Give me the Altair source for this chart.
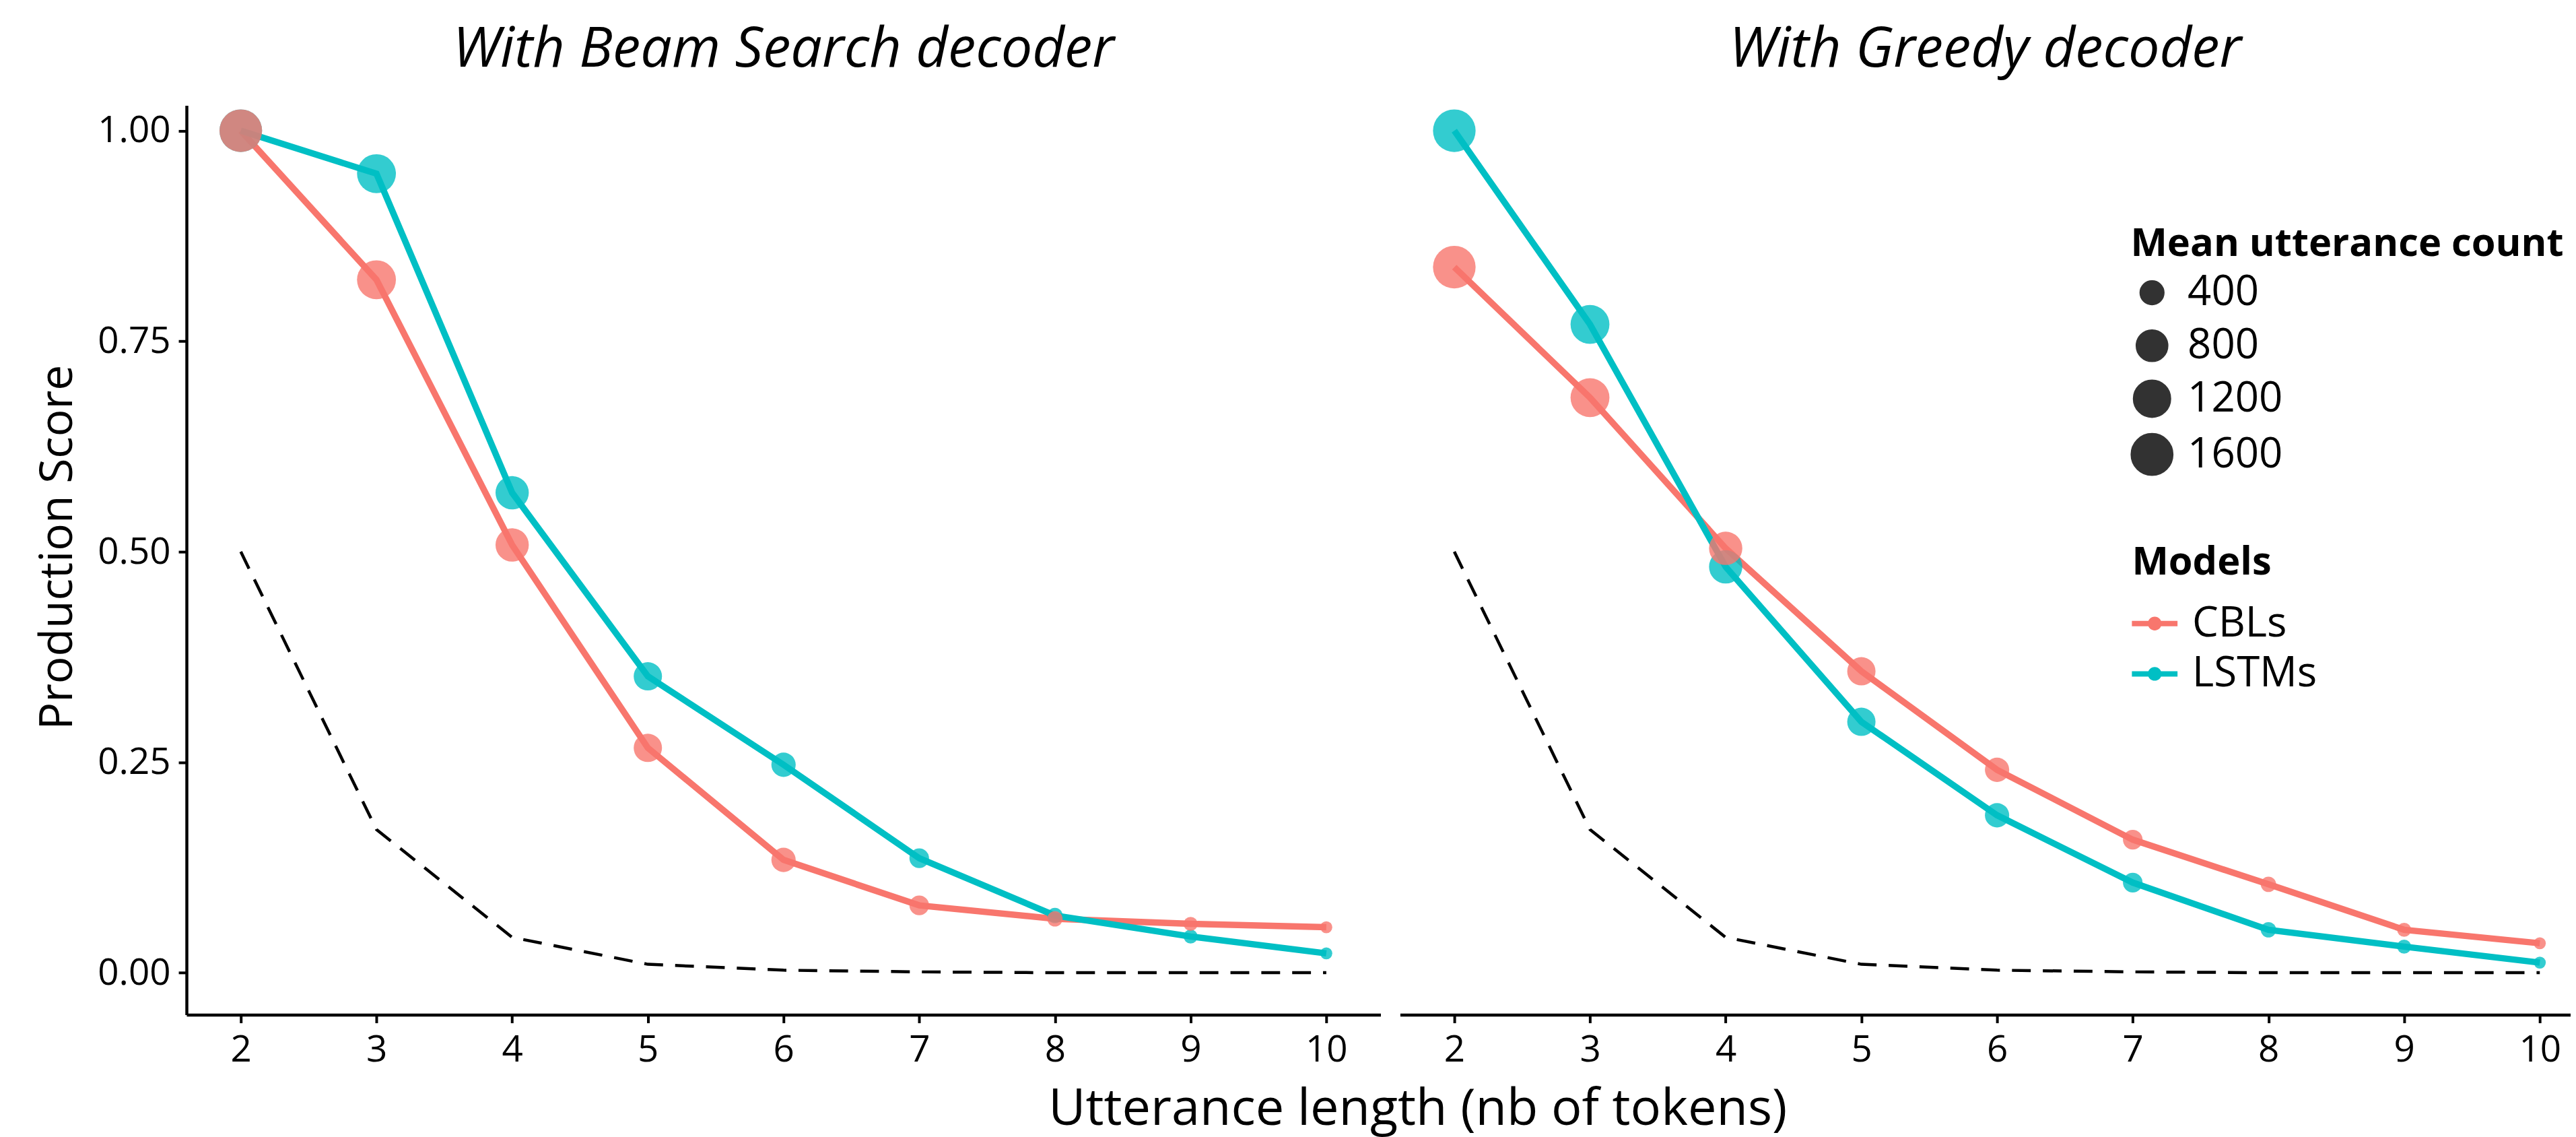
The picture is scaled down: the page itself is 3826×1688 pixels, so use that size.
import altair as alt
import pandas as pd

# ---------------- data ----------------
lengths = [2, 3, 4, 5, 6, 7, 8, 9, 10]
models = ["CBLs", "LSTMs"]

beam_cbls = [1.000, 0.823, 0.508, 0.267, 0.134, 0.080, 0.064, 0.058, 0.054]
beam_lstms = [1.000, 0.949, 0.570, 0.352, 0.247, 0.136, 0.068, 0.043, 0.023]
greedy_cbls = [0.838, 0.683, 0.504, 0.358, 0.241, 0.158, 0.105, 0.051, 0.035]
greedy_lstms = [1.000, 0.770, 0.482, 0.298, 0.187, 0.107, 0.051, 0.031, 0.012]
chance = [0.500, 0.170, 0.042, 0.010, 0.003, 0.001, 0.000, 0.000, 0.000]
mean_counts = [1670, 1330, 900, 600, 410, 240, 130, 105, 70]

size_legend_values = [400, 800, 1200, 1600]
panel_titles = ["With Beam Search decoder", "With Greedy decoder"]


def model_frame(cbl, lstm, order):
    rows = []
    series = dict(zip(models, (cbl, lstm)))
    for m in order:
        for L, v, c in zip(lengths, series[m], mean_counts):
            rows.append({"length": L, "score": v, "model": m, "count": c})
    return pd.DataFrame(rows)


beam_lines = model_frame(beam_cbls, beam_lstms, ["CBLs", "LSTMs"])
beam_points = model_frame(beam_cbls, beam_lstms, ["LSTMs", "CBLs"])
greedy_lines = model_frame(greedy_cbls, greedy_lstms, ["CBLs", "LSTMs"])
greedy_points = model_frame(greedy_cbls, greedy_lstms, ["LSTMs", "CBLs"])
chance_df = pd.DataFrame({"length": lengths, "score": chance})

# ---------------- style ----------------
FONT = "Open Sans"
RED, CYAN = "#F8766D", "#00BFC4"
W_LEFT = 1780
W_RIGHT = 1745
H = 1355
UNIT = W_LEFT / 8.8
Y_DOMAIN = [-0.05, 1.03]

LEGEND_PATH = ("M-1,-0.12 L1,-0.12 L1,0.12 L-1,0.12 Z "
               "M-0.3,0 A0.3,0.3 0 1,1 0.3,0 A0.3,0.3 0 1,1 -0.3,0 Z")

axis_common = dict(
    domainColor="black", domainWidth=4.5, tickColor="black", tickWidth=4,
    tickSize=12, labelFont=FONT, labelFontSize=55, labelColor="black",
    grid=False, titleFont=FONT, titleColor="black", titleFontWeight="normal",
)

color_scale = alt.Scale(domain=models, range=[RED, CYAN])
size_scale = alt.Scale(type="pow", exponent=0.8, domain=[0, 1600], range=[0, 3900])


def panel(lines_df, points_df, title, left, width, xmax):
    xscale = alt.Scale(domain=[1.6, xmax], nice=False, zero=False)
    yscale = alt.Scale(domain=Y_DOMAIN, nice=False, zero=False)
    if left:
        xaxis = alt.Axis(values=lengths, format="d", labelPadding=14,
                         title="Utterance length (nb of tokens)", titleFontSize=76,
                         titleX=1835, titleY=163, titleAlign="center",
                         titleBaseline="alphabetic", titleAngle=0, **axis_common)
        yaxis = alt.Axis(values=[0, 0.25, 0.5, 0.75, 1.0], format=".2f", labelPadding=12,
                         title="Production Score", titleFontSize=68,
                         titleX=-171, titleY=658, titleAlign="center",
                         titleBaseline="alphabetic", **axis_common)
        y_enc = alt.Y("score:Q", scale=yscale, axis=yaxis)
        color_kw = {"legend": None}
        size_kw = {"legend": None}
    else:
        xaxis = alt.Axis(values=lengths, format="d", labelPadding=14, title=None,
                         **axis_common)
        y_enc = alt.Y("score:Q", scale=yscale, axis=None)
        color_legend = alt.Legend(
            title="Models", orient="none", legendX=1091, legendY=653, padding=0,
            titleFont=FONT, titleFontSize=58, titleFontWeight="bold", titleColor="black",
            titleLimit=2000, labelLimit=2000,
            labelFont=FONT, labelFontSize=62, labelColor="black", labelOffset=22,
            symbolType=LEGEND_PATH, symbolSize=4624, symbolStrokeWidth=0,
            symbolOpacity=1, rowPadding=10, titlePadding=27,
        )
        size_legend = alt.Legend(
            title="Mean utterance count", orient="none", legendX=1089, legendY=178,
            padding=0, values=size_legend_values, format="d",
            titleLimit=2000, labelLimit=2000,
            titleFont=FONT, titleFontSize=58, titleFontWeight="bold", titleColor="black",
            labelFont=FONT, labelFontSize=62, labelColor="black", labelOffset=21,
            symbolFillColor="black", symbolStrokeColor="black", symbolStrokeWidth=1.5,
            symbolOpacity=0.8, rowPadding=17, titlePadding=12,
        )
        color_kw = {"legend": color_legend}
        size_kw = {"legend": size_legend}

    x_enc = alt.X("length:Q", scale=xscale, axis=xaxis)

    chance_layer = alt.Chart(chance_df).mark_line(
        color="black", strokeDash=[28, 18], strokeWidth=4.5
    ).encode(x=x_enc, y=y_enc)

    line_layer = alt.Chart(lines_df).mark_line(strokeWidth=9.5).encode(
        x=x_enc, y=y_enc,
        color=alt.Color("model:N", scale=color_scale, **color_kw),
        detail="model:N",
    )

    point_layer = alt.Chart(points_df).mark_circle(opacity=0.8).encode(
        x=x_enc, y=y_enc,
        color=alt.Color("model:N", scale=color_scale, **color_kw),
        size=alt.Size("count:Q", scale=size_scale, **size_kw),
    )

    return alt.layer(chance_layer, line_layer, point_layer).properties(
        width=width, height=H,
        title=alt.TitleParams(
            text=title, font=FONT, fontSize=83, fontStyle="italic",
            fontWeight="normal", color="black", anchor="middle",
            baseline="alphabetic", offset=-25, frame="group",
        ),
    )


left = panel(beam_lines, beam_points, panel_titles[0], True, W_LEFT, 10.4)
right = panel(greedy_lines, greedy_points, panel_titles[1], False, W_RIGHT,
              1.6 + W_RIGHT / UNIT)

chart = (
    alt.hconcat(left, right, spacing=29, bounds="flush")
    .resolve_scale(color="independent", size="independent")
    .resolve_legend(color="independent", size="independent")
    .properties(padding={"left": 45, "top": 22, "right": 0, "bottom": 12},
                background="white")
    .configure_view(stroke=None)
)

chart.save("out.html", embed_options={"renderer": "svg", "actions": False})
